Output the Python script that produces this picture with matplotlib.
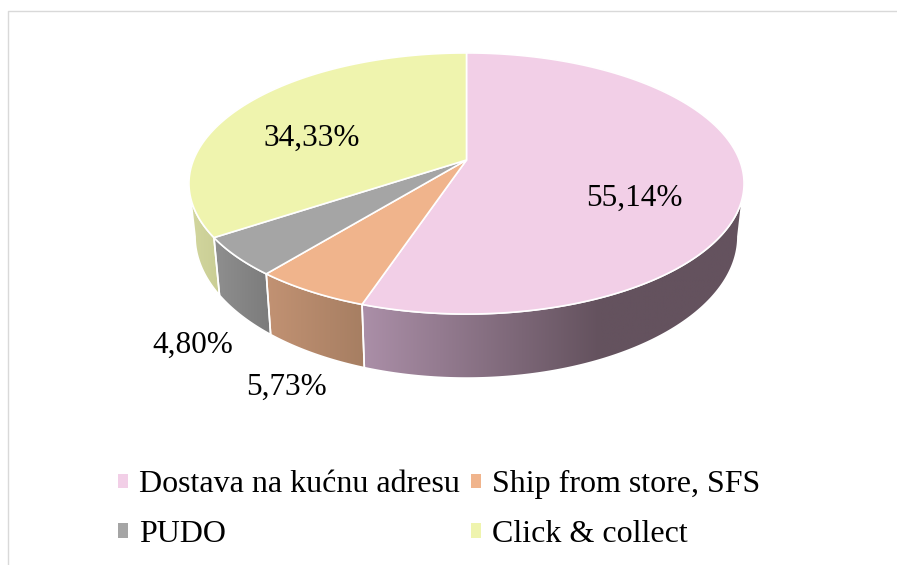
import numpy as np
from matplotlib import pyplot as plt
from matplotlib.colors import to_rgb
from matplotlib.patches import Patch, Polygon

labels = ["Dostava na kućnu adresu", "Ship from store, SFS", "PUDO", "Click & collect"]
values = [55.14, 5.73, 4.80, 34.33]
value_labels = ["55,14%", "5,73%", "4,80%", "34,33%"]
top_colors = ["#f2cfe7", "#f0b48c", "#a5a5a5", "#eff4ae"]
side_left = ["#ab8fa8", "#c29273", "#8f8f8f", "#d3d79f"]
side_right = ["#64525e", "#a67e62", "#7b7b7b", "#c9cd94"]
label_pos = [(634, 198), (286, 387), (193, 345), (312, 138)]

plt.rcParams["font.family"] = ["Liberation Serif", "DejaVu Serif"]

W, H = 897, 565
K = 0.18  # perspective of the tilted disc
TOP = dict(x0=466.5, y0=160, a=273, b=126.3)
BOTTOM = dict(x0=466.5, y0=211, a=267, b=137)
SILHOUETTE = (100.4, 259.6)


def project(deg, disc):
    t = np.radians(deg)
    u, v = np.sin(t), -np.cos(t)
    d = 1 - K * v
    return disc["x0"] + disc["a"] * u / d, disc["y0"] + disc["b"] * v / d


def arc(start, end, disc):
    ts = np.linspace(start, end, max(int(abs(end - start) * 2), 2))
    x, y = project(ts, disc)
    return np.column_stack([x, y])


fig = plt.figure(figsize=(W / 100, H / 100), dpi=100)
ax = fig.add_axes([0, 0, 1, 1])
ax.axis("off")

# chart frame, cropped at the right and bottom
ax.plot([7.5, 7.5, W], [H, 10.5, 10.5], color="#d9d9d9", lw=1)

edges = np.concatenate([[0], np.cumsum(values) / np.sum(values) * 360])

# side walls first
for i in range(len(values)):
    start = max(edges[i], SILHOUETTE[0])
    end = min(edges[i + 1], SILHOUETTE[1])
    if end <= start:
        continue
    pts = np.vstack([arc(start, end, TOP), arc(start, end, BOTTOM)[::-1]])
    poly = Polygon(pts, closed=True, fc="none", ec="none")
    ax.add_patch(poly)
    c0 = np.array(to_rgb(side_left[i]))
    c1 = np.array(to_rgb(side_right[i]))
    xmin, xmax = pts[:, 0].min(), pts[:, 0].max()
    ramp = np.linspace(0, 1, 256)
    if i == 0:
        # the big wall reaches its darkest part well before the right end
        ramp = np.clip(ramp / 0.62, 0, 1)
    grad = c0[None, None, :] * (1 - ramp[None, :, None]) + c1[None, None, :] * ramp[None, :, None]
    im = ax.imshow(grad, extent=[xmin, xmax, pts[:, 1].max(), pts[:, 1].min()],
                   aspect="auto", zorder=2)
    im.set_clip_path(poly)
    ax.add_patch(Polygon(pts, closed=True, fc="none", ec="white", lw=1.2, zorder=3))

# top face
for i in range(len(values)):
    rim = arc(edges[i], edges[i + 1], TOP)
    pts = np.vstack([[TOP["x0"], TOP["y0"]], rim])
    ax.add_patch(Polygon(pts, closed=True, fc=top_colors[i], ec="white", lw=1.2, zorder=4))

for txt, (x, y) in zip(value_labels, label_pos):
    ax.text(x, y, txt, fontsize=22.5, ha="center", va="center", color="black", zorder=5)

ax.set_xlim(0, W)
ax.set_ylim(H, 0)

order = [0, 2, 1, 3]
handles = [Patch(fc=top_colors[i], ec="none", label=labels[i]) for i in order]
ax.legend(handles=handles, ncol=2, frameon=False, fontsize=23,
          loc="lower left", bbox_to_anchor=(118 / W, 1 - 549 / H),
          borderpad=0, borderaxespad=0,
          handlelength=0.32, handleheight=0.32, handletextpad=0.35,
          columnspacing=0.32, labelspacing=0.65)

fig.savefig("out.png", dpi=100)
